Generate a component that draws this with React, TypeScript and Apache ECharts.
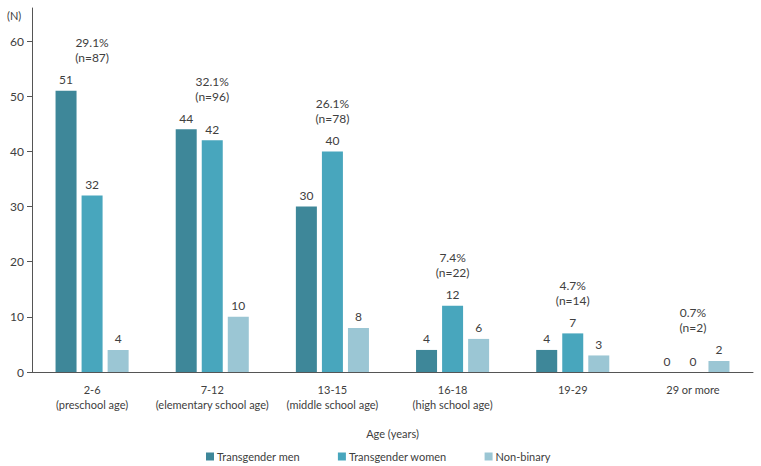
import React, { useEffect, useRef } from "react";
import * as echarts from "echarts";

const categories = [
  "2-6\n(preschool age)",
  "7-12\n(elementary school age)",
  "13-15\n(middle school age)",
  "16-18\n(high school age)",
  "19-29",
  "29 or more",
];
const seriesNames = ["Transgender men", "Transgender women", "Non-binary"];
const transMen = [51, 44, 30, 4, 4, 0];
const transWomen = [32, 42, 40, 12, 7, 0];
const nonBinary = [4, 10, 8, 6, 3, 2];
const colors = ["#3e8799", "#48a6bd", "#9bc6d4"];
const yTicks = [0, 10, 20, 30, 40, 50, 60];

const FONT = "Lato";
const TEXT = "#404040";
const FS = 11;
const FN = 12;

export default function App() {
  const ref = useRef<HTMLDivElement>(null);
  useEffect(() => {
    if (!ref.current) return;
    const chart = echarts.init(ref.current, undefined, { renderer: "svg" });
    const groupN = categories.map((_, i) => transMen[i] + transWomen[i] + nonBinary[i]);
    const total = groupN.reduce((a, b) => a + b, 0);
    const groupMax = categories.map((_, i) => Math.max(transMen[i], transWomen[i], nonBinary[i]));
    const all = [transMen, transWomen, nonBinary];
    chart.setOption({
      animation: false,
      textStyle: { fontFamily: FONT, color: TEXT },
      grid: { left: 32, right: 8, top: 8, bottom: 94, containLabel: false },
      graphic: [
        {
          type: "text",
          left: 7,
          top: 10,
          style: { text: "(N)", fontFamily: FONT, fontSize: 11, fill: TEXT },
        },
      ],
      legend: {
        data: seriesNames,
        left: 201,
        top: 446,
        itemWidth: 8,
        itemHeight: 8,
        itemGap: 38,
        icon: "rect",
        textStyle: { fontFamily: FONT, fontSize: FS, color: TEXT, padding: [0, 0, 0, -2] },
      },
      xAxis: {
        type: "category",
        data: categories,
        name: "Age (years)",
        nameLocation: "middle",
        nameGap: 56,
        nameTextStyle: { fontFamily: FONT, fontSize: FS, color: TEXT },
        axisLine: { lineStyle: { color: "#555", width: 1 } },
        axisTick: { alignWithLabel: true, length: 4, lineStyle: { color: "#555" } },
        axisLabel: {
          interval: 0,
          margin: 10,
          lineHeight: 15,
          fontFamily: FONT,
          fontSize: FS,
          color: TEXT,
        },
      },
      yAxis: {
        type: "value",
        min: 0,
        max: 66,
        interval: 10,
        splitLine: { show: false },
        axisLine: { show: true, lineStyle: { color: "#555", width: 1 } },
        axisTick: { show: true, length: 5, customValues: yTicks, lineStyle: { color: "#555" } },
        axisLabel: {
          customValues: yTicks,
          margin: 8,
          fontFamily: FONT,
          fontSize: FN,
          color: TEXT,
        },
      },
      series: [
        ...all.map((d, k) => ({
          name: seriesNames[k],
          type: "bar",
          data: d,
          barWidth: 21,
          barGap: "24%",
          itemStyle: { color: colors[k] },
          label: {
            show: true,
            position: "top",
            distance: 5,
            fontFamily: FONT,
            fontSize: FN,
            color: TEXT,
          },
        })),
        {
          name: "group",
          type: "scatter",
          data: groupMax,
          symbolSize: 1,
          itemStyle: { color: "rgba(0,0,0,0)" },
          silent: true,
          z: 5,
          label: {
            show: true,
            position: "top",
            distance: 25,
            lineHeight: 15,
            fontFamily: FONT,
            fontSize: FN,
            color: TEXT,
            opacity: 1,
            formatter: (p: any) =>
              `${((groupN[p.dataIndex] / total) * 100).toFixed(1)}%\n(n=${groupN[p.dataIndex]})`,
          },
        },
      ],
    });
    return () => chart.dispose();
  }, []);
  return <div ref={ref} style={{ width: 761, height: 466, position: "absolute", left: 0, top: 0 }} />;
}
